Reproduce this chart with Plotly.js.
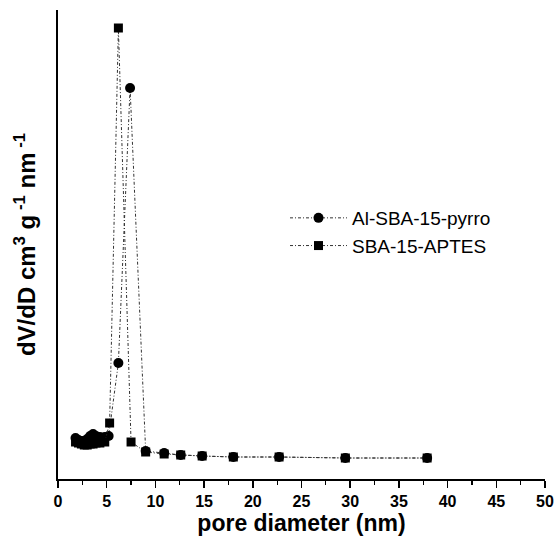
<!DOCTYPE html>
<html><head><meta charset="utf-8">
<script src="https://cdn.plot.ly/plotly-3.0.1.min.js"></script>
<style>body{margin:0;background:#fff}</style>
</head><body>
<div id="chart" style="width:556px;height:538px"></div>
<script>
const seriesNames = ["Al-SBA-15-pyrro", "SBA-15-APTES"];
const circleX = [1.8,2.1,2.4,2.7,3.0,3.3,3.6,3.9,4.3,4.8,5.2,6.2,7.4,9.0,10.9,12.6,14.8,18.0,22.7,29.5,37.9];
const circleY = [41,39,38,38,40,43,45,43,42,42,43,116,391,28,26,24,23,22,22,21,21];
const squareX = [1.8,2.1,2.4,2.7,3.0,3.3,3.6,3.9,4.3,4.8,5.3,6.2,7.5,9.0,10.9,12.6,14.8,18.0,22.7,29.5,37.9];
const squareY = [37,36,35,34,34,35,35,36,36,37,56,451,37,27,25,24,23,22,22,21,21];
const xTickVals = [0,5,10,15,20,25,30,35,40,45,50];

const FONT = 'Liberation Sans, Arial, sans-serif';
const lineStyle = {color:'#333', width:1, dash:'3px,2px,1px,2px'};
const traces = [
  {x:circleX, y:circleY, name:seriesNames[0], mode:'lines+markers', type:'scatter',
   line:lineStyle, marker:{symbol:'circle', size:10, color:'#000'}},
  {x:squareX, y:squareY, name:seriesNames[1], mode:'lines+markers', type:'scatter',
   line:lineStyle, marker:{symbol:'square', size:9, color:'#000'}}
];
const layout = {
  width:556, height:538,
  margin:{l:58, r:11, t:10, b:59},
  paper_bgcolor:'#fff', plot_bgcolor:'#fff',
  showlegend:true,
  legend:{x:(285-58)/487, y:0.597, xanchor:'left', yanchor:'top', bgcolor:'rgba(0,0,0,0)',
          itemwidth:57,
          font:{family:FONT, size:19, color:'#000'}},
  xaxis:{range:[0,50], tickvals:xTickVals, ticks:'outside', ticklen:7, tickwidth:1.5, tickcolor:'#000',
         showline:true, linecolor:'#000', linewidth:1.6, showgrid:false, zeroline:false,
         minor:{dtick:2.5, ticks:'outside', ticklen:4, tickwidth:1.2, tickcolor:'#000'},
         tickfont:{family:FONT, size:16, color:'#000', weight:'bold'},
         title:{text:'<b>pore diameter (nm)</b>', standoff:2,
                font:{family:FONT, size:23, color:'#000'}}},
  yaxis:{range:[0,469], showticklabels:false, ticks:'', showline:true, linecolor:'#000', linewidth:1.6,
         showgrid:false, zeroline:false,
         title:{text:'<b>dV/dD cm<sup>3</sup> g<sup> -1</sup> nm<sup> -1</sup></b>', standoff:14,
                font:{family:FONT, size:24, color:'#000'}}}
};
Plotly.newPlot('chart', traces, layout, {displayModeBar:false, staticPlot:true});
</script>
</body></html>
